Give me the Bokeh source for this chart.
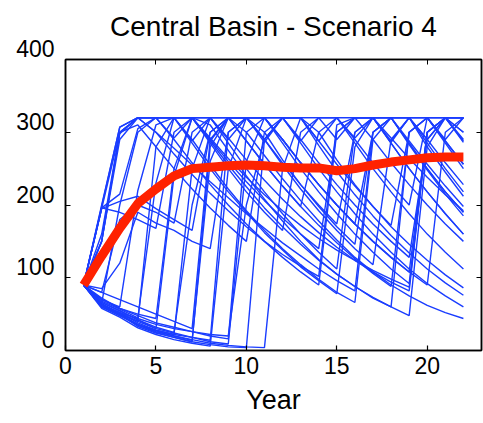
from bokeh.plotting import figure
from bokeh.models import LinearAxis, Range1d, FixedTicker
from bokeh.embed import file_html
from bokeh.resources import INLINE

years = list(range(1, 23))

# Individual simulated trajectories
traj = [
    [90, 62, 50, 33, 24, 18, 12, 8, 5, 4, 290, 320, 320, 282, 246, 214, 185, 158, 134, 112, 93, 76],
    [90, 58, 46, 31, 22, 15, 10, 6, 250, 320, 300, 262, 228, 198, 170, 146, 300, 320, 285, 250, 218, 190],
    [90, 60, 48, 35, 26, 20, 14, 260, 320, 320, 290, 255, 222, 192, 165, 140, 118, 290, 320, 280, 245, 212],
    [90, 64, 52, 38, 28, 22, 250, 320, 285, 250, 218, 188, 160, 135, 112, 300, 320, 320, 283, 248, 215, 185],
    [90, 66, 55, 42, 30, 240, 320, 310, 275, 240, 208, 178, 150, 125, 105, 88, 72, 60, 300, 320, 285, 250],
    [90, 68, 57, 45, 230, 320, 320, 285, 250, 218, 190, 165, 300, 320, 320, 285, 250, 218, 188, 160, 135, 112],
    [90, 70, 60, 220, 310, 320, 290, 255, 222, 192, 165, 140, 118, 98, 80, 66, 290, 320, 320, 285, 250, 218],
    [90, 65, 200, 300, 320, 320, 285, 250, 218, 190, 162, 138, 115, 96, 78, 280, 320, 285, 250, 218, 188, 160],
    [90, 196, 215, 305, 320, 320, 320, 288, 255, 225, 196, 170, 146, 124, 105, 88, 73, 60, 48, 280, 320, 320],
    [90, 200, 307, 320, 320, 290, 258, 228, 200, 174, 150, 128, 108, 90, 300, 320, 320, 285, 250, 218, 188, 160],
    [90, 198, 307, 320, 320, 320, 320, 320, 320, 320, 320, 320, 320, 320, 320, 320, 320, 320, 320, 320, 320, 320],
    [90, 150, 298, 320, 300, 278, 255, 232, 210, 188, 168, 148, 130, 112, 96, 82, 300, 320, 285, 250, 218, 190],
    [90, 195, 205, 212, 195, 180, 165, 300, 320, 288, 256, 226, 198, 172, 148, 126, 106, 88, 300, 320, 288, 256],
    [90, 80, 70, 60, 50, 40, 30, 290, 320, 320, 320, 285, 250, 218, 188, 160, 135, 112, 92, 300, 320, 286],
    [90, 72, 58, 48, 38, 32, 26, 20, 16, 300, 320, 290, 258, 228, 200, 174, 150, 128, 108, 300, 320, 300],
    [90, 60, 50, 40, 280, 320, 288, 320, 290, 320, 286, 320, 320, 288, 320, 292, 320, 286, 320, 320, 290, 320],
    [90, 150, 300, 320, 320, 292, 320, 288, 320, 320, 290, 320, 288, 320, 290, 320, 320, 288, 320, 290, 320, 288],
    [90, 62, 52, 40, 30, 24, 18, 12, 9, 260, 320, 320, 285, 250, 218, 188, 160, 135, 112, 92, 75, 60],
    [90, 63, 50, 36, 27, 20, 15, 10, 7, 5, 4, 250, 320, 300, 262, 228, 198, 170, 146, 124, 104, 86],
    [90, 64, 50, 35, 25, 18, 12, 280, 320, 300, 268, 236, 206, 178, 152, 128, 108, 90, 75, 62, 52, 44],
    [90, 66, 54, 42, 32, 25, 200, 300, 320, 320, 290, 258, 228, 200, 174, 300, 320, 320, 288, 256, 226, 198],
    [90, 160, 300, 310, 280, 250, 222, 196, 172, 150, 300, 320, 290, 258, 228, 200, 174, 150, 128, 290, 320, 320],
    [90, 195, 300, 320, 300, 270, 242, 216, 192, 170, 150, 132, 116, 102, 310, 320, 290, 258, 228, 200, 174, 150],
    [90, 70, 58, 50, 44, 250, 320, 320, 320, 288, 256, 226, 198, 300, 320, 290, 258, 228, 200, 320, 320, 290],
    [90, 85, 120, 190, 175, 165, 150, 140, 300, 320, 320, 290, 258, 228, 200, 174, 150, 128, 108, 90, 300, 320],
    [90, 80, 180, 200, 190, 175, 300, 320, 292, 262, 234, 208, 184, 162, 142, 124, 108, 94, 82, 300, 320, 300],
    [90, 60, 48, 36, 28, 22, 18, 14, 300, 320, 320, 290, 258, 228, 200, 174, 300, 320, 320, 290, 258, 228],
    [90, 62, 52, 44, 36, 30, 26, 22, 20, 200, 290, 320, 320, 288, 256, 226, 198, 172, 300, 320, 288, 256],
    [90, 150, 290, 320, 320, 320, 320, 292, 264, 238, 214, 192, 172, 154, 138, 124, 110, 98, 87, 300, 320, 320],
    [90, 196, 190, 180, 168, 300, 320, 290, 260, 232, 206, 182, 160, 140, 300, 320, 320, 292, 264, 238, 214, 192],
]

# Mean trajectory (thick red line)
mean_vals = [90, 130, 168, 202, 222, 240, 250, 252, 254, 255, 254, 252, 251, 251, 247, 250, 255, 259, 262, 265, 266, 266]

x_ticks = [0, 5, 10, 15, 20]
y_ticks = [0, 100, 200, 300, 400]
y_tick_labels = ["0", "100", "200", "300", "400"]
title_text = "Central Basin - Scenario 4"

FONT = "Liberation Sans"
TICK_SIZE = "23px"

p = figure(width=483, height=423, output_backend="svg", toolbar_location=None,
           x_range=Range1d(0, 23), y_range=Range1d(0, 400),
           min_border_left=65, min_border_right=2, min_border_top=59, min_border_bottom=73)
p.title.text = ""

p.multi_line([years] * len(traj), traj, line_color="#1a3dff", line_width=1.4)
p.line(years, mean_vals, line_color="#ff2200", line_width=9)

p.grid.visible = False
p.outline_line_color = "black"
p.outline_line_width = 1.5

for ax in (p.xaxis[0], p.yaxis[0]):
    ax.major_tick_in = 5
    ax.major_tick_out = 0
    ax.minor_tick_line_color = None
    ax.axis_line_width = 1.5
    ax.major_tick_line_width = 1.2
    ax.major_label_text_font = FONT
    ax.major_label_text_font_size = TICK_SIZE
    ax.major_label_text_color = "black"

p.xaxis[0].ticker = FixedTicker(ticks=x_ticks)
p.yaxis[0].ticker = FixedTicker(ticks=y_ticks)
# the original draws y labels sitting just above their ticks
p.yaxis[0].major_label_overrides = {v: t + "\n" for v, t in zip(y_ticks, y_tick_labels)}
p.yaxis[0].major_label_text_line_height = 0.8
p.yaxis[0].major_label_standoff = 11
p.xaxis[0].major_label_standoff = 6
p.xaxis[0].axis_label = "Year"
p.xaxis[0].axis_label_text_font = FONT
p.xaxis[0].axis_label_text_font_size = "27px"
p.xaxis[0].axis_label_text_font_style = "normal"
p.xaxis[0].axis_label_text_color = "black"
p.xaxis[0].axis_label_standoff = 8

# mirrored inward ticks on the top and right edges (labels hidden);
# the chart title is carried as the label of the top axis
for loc, tk in (("above", x_ticks), ("right", y_ticks)):
    ax = LinearAxis(ticker=FixedTicker(ticks=tk))
    ax.major_tick_in = 5
    ax.major_tick_out = 0
    ax.minor_tick_line_color = None
    ax.major_label_text_color = None
    ax.major_label_text_font_size = "1px"
    ax.major_label_standoff = 0
    ax.axis_line_width = 1.5
    if loc == "above":
        ax.axis_label = title_text
        ax.axis_label_text_font = FONT
        ax.axis_label_text_font_size = "28px"
        ax.axis_label_text_font_style = "normal"
        ax.axis_label_text_color = "black"
        ax.axis_label_standoff = 18
    p.add_layout(ax, loc)

open("out.html", "w").write(file_html(p, INLINE))
